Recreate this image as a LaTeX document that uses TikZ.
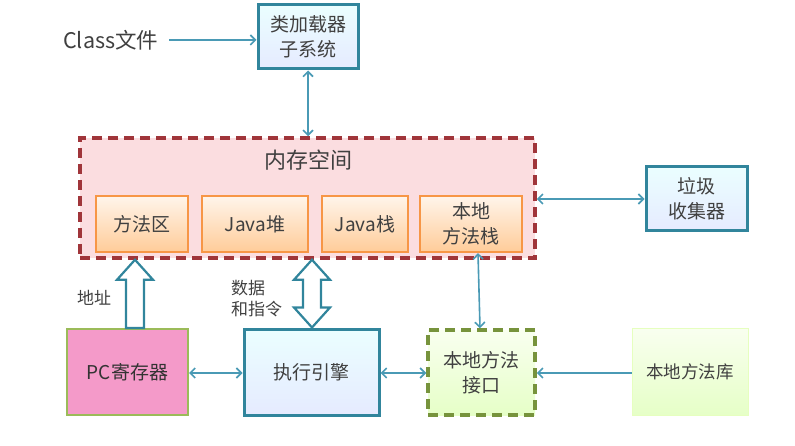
\documentclass[tikz,border=0pt]{standalone}
\usepackage{fontspec}
\setmainfont{Noto Sans CJK SC}
\usetikzlibrary{arrows.meta,calc}
\definecolor{txt}{HTML}{404040}
\definecolor{conn}{HTML}{4A9AB5}
\definecolor{teal}{HTML}{31859C}
\definecolor{memred}{HTML}{A0353A}
\definecolor{mempink}{HTML}{FBDDE0}
\definecolor{orng}{HTML}{F79646}
\definecolor{olive}{HTML}{77933C}
\definecolor{pcpink}{HTML}{F49AC9}
\definecolor{pcgreen}{HTML}{9BBB59}
\tikzset{
  lbl/.style={text=txt,font=\fontsize{19}{25}\selectfont,align=center,inner sep=0pt},
  bluebox/.style={draw=teal,line width=3pt,top color=blue!3!cyan!8,bottom color=cyan!20!blue!10,text=txt,font=\fontsize{19}{25}\selectfont,align=center,inner sep=0pt},
  orbox/.style={draw=orng,line width=2.2pt,top color=orange!8,bottom color=orange!40,text=txt,font=\fontsize{19}{25}\selectfont,align=center,inner sep=0pt},
  greenbox/.style={top color=green!40!yellow!6,bottom color=green!45!yellow!22,text=txt,font=\fontsize{19}{25}\selectfont,align=center,inner sep=0pt},
  conn/.style={draw=conn,line width=1.6pt},
  dbl/.style={conn,{Straight Barb[length=5pt,width=10pt]}-{Straight Barb[length=5pt,width=10pt]}},
  sgl/.style={conn,-{Straight Barb[length=5pt,width=10pt]}},
  hollow/.style={draw=teal,line width=2.2pt,fill=white,line join=miter},
}
\begin{document}
\begin{tikzpicture}[x=1pt,y=-1pt]
\useasboundingbox (0,0) rectangle (795,446);
% class file
\node[lbl,anchor=west,font=\fontsize{21.5}{25}\selectfont] (cls) at (63,40) {Class文件};
\node[bluebox,minimum width=100pt,minimum height=64pt] (loader) at (308,37) {类加载器\\子系统};
% memory
\node[draw=memred,fill=mempink,line width=3.5pt,dash pattern=on 10pt off 6pt,minimum width=455pt,minimum height=120pt,inner sep=0pt] (mem) at (307.5,198) {};
\node[lbl,font=\fontsize{22}{26}\selectfont] (memt) at (308,160) {内存空间};
\node[orbox,minimum width=92pt,minimum height=56pt] (ma) at (142,224) {方法区};
\node[orbox,minimum width=106pt,minimum height=56pt] (heap) at (255,224) {Java堆};
\node[orbox,minimum width=86pt,minimum height=56pt] (stack) at (365,224) {Java栈};
\node[orbox,minimum width=102pt,minimum height=56pt] (nstack) at (471,224) {本地\\方法栈};
% gc
\node[bluebox,minimum width=101pt,minimum height=64pt] (gc) at (696.5,199) {垃圾\\收集器};
% bottom row
\node[draw=pcgreen,fill=pcpink,line width=2.2pt,minimum width=121pt,minimum height=86pt,text=txt!80!black,font=\fontsize{19}{25}\selectfont,inner sep=0pt] (pc) at (127.5,372) {PC寄存器};
\node[bluebox,minimum width=135pt,minimum height=86pt] (exe) at (311.5,372) {执行引擎};
\node[greenbox,draw=olive,line width=3.5pt,dash pattern=on 10pt off 6pt,minimum width=107pt,minimum height=85pt] (ni) at (481.5,372.5) {本地方法\\接口};
\node[greenbox,draw=green!40!yellow!25,line width=0.8pt,minimum width=116pt,minimum height=87pt,font=\fontsize{17.5}{22}\selectfont] (nl) at (690,371.5) {本地方法库};
% labels
\node[lbl,anchor=west,font=\fontsize{17}{22}\selectfont] (addr) at (77,298) {地址};
\node[lbl,anchor=west,align=left,font=\fontsize{17}{21}\selectfont] (data) at (231,299) {数据\\和指令};
% connectors
\coordinate (clsE) at ($(cls.east)+(11,0)$);
\draw[sgl] (clsE) -- (loader.west |- clsE);
\draw[dbl] (loader.south) -- (mem.north -| loader.south);
\draw[dbl] (mem.east |- gc.west) -- (gc.west);
\draw[dbl] (pc.east |- 0,373) -- (exe.west |- 0,373);
\draw[dbl] (exe.east |- 0,373) -- (ni.west |- 0,373);
\draw[sgl] (nl.west |- 0,373) -- (ni.east |- 0,373);
\draw[dbl] (nstack.south -| 478,0) -- (ni.north -| 480,0);
% hollow arrows
\coordinate (a0) at (pc.north -| 135,0);
\coordinate (a1) at (mem.south -| 135,0);
\draw[hollow] ($(a0)+(-9,0)$) -- ($(a1)+(-9,20)$) -- ($(a1)+(-18,20)$) -- (a1) -- ($(a1)+(18,20)$) -- ($(a1)+(9,20)$) -- ($(a0)+(9,0)$) -- cycle;
\coordinate (b0) at (exe.north -| 312,0);
\coordinate (b1) at (mem.south -| 312,0);
\draw[hollow] (b1) -- ($(b1)+(18,20)$) -- ($(b1)+(9,20)$) -- ($(b0)+(9,-20)$) -- ($(b0)+(18,-20)$) -- (b0) -- ($(b0)+(-18,-20)$) -- ($(b0)+(-9,-20)$) -- ($(b1)+(-9,20)$) -- ($(b1)+(-18,20)$) -- cycle;
\end{tikzpicture}
\end{document}
